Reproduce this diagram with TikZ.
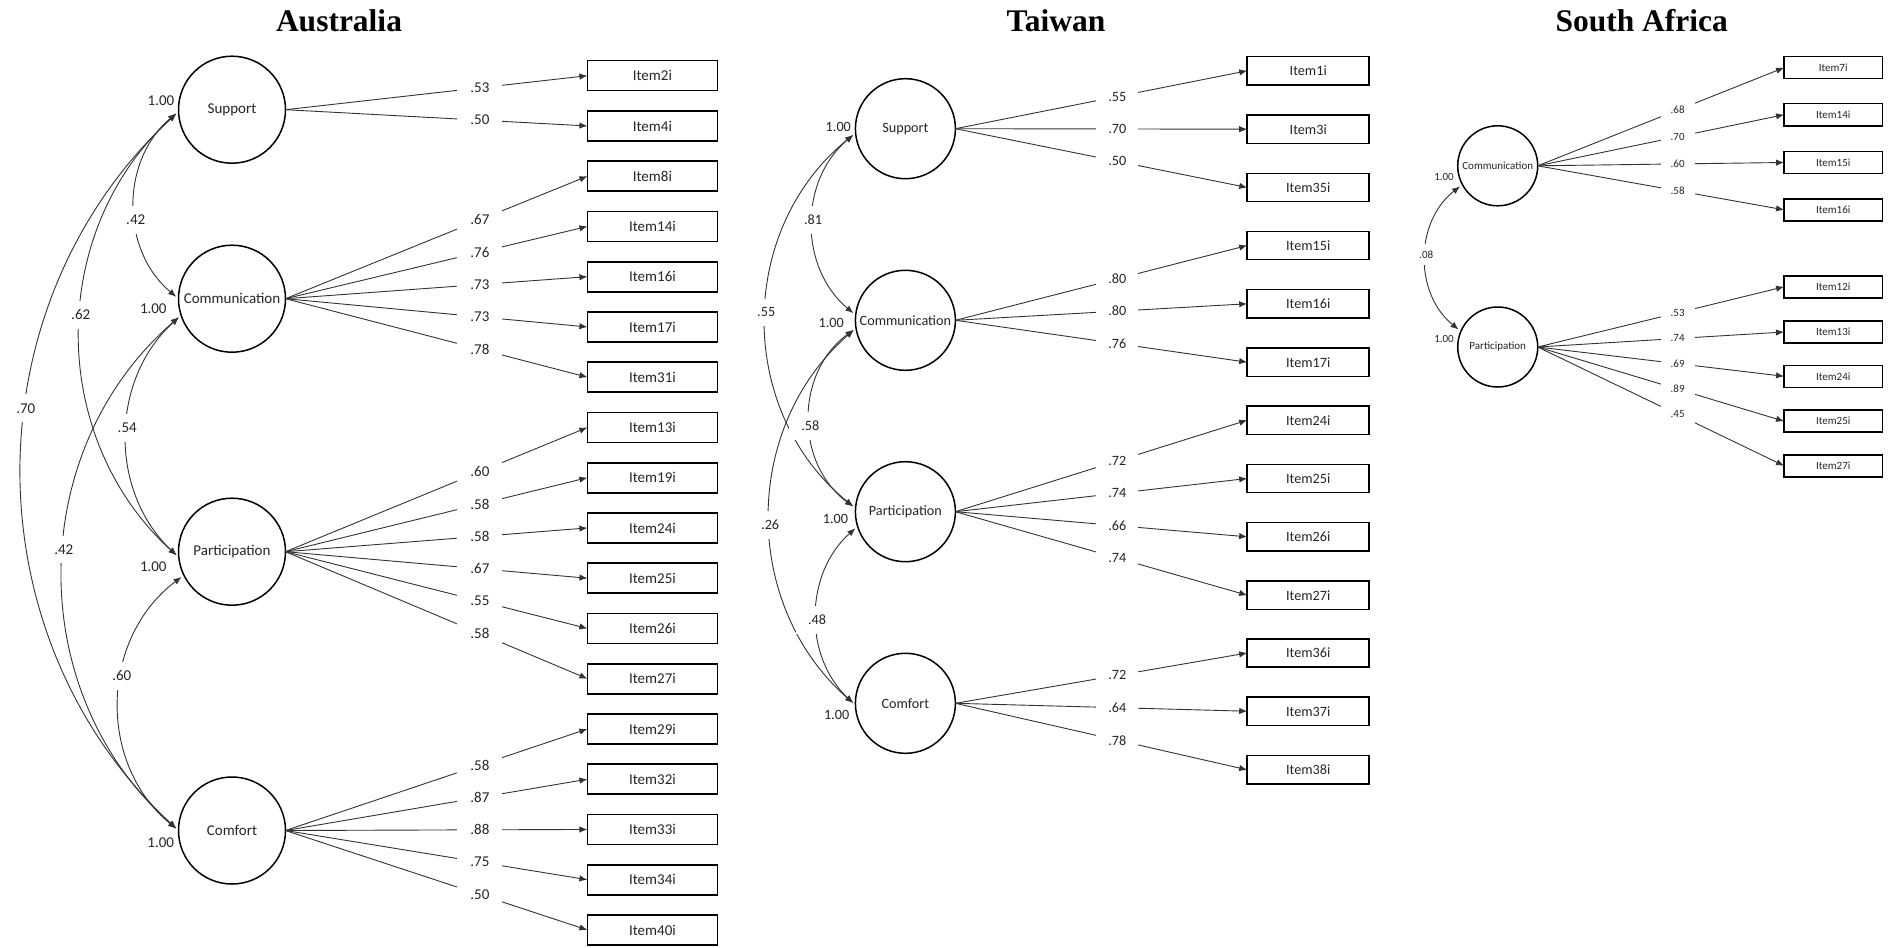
\documentclass[tikz,border=0pt]{standalone}
\usepackage{fontspec}
\setmainfont{Carlito}
\newfontfamily\ttlfont{Liberation Serif}
\usetikzlibrary{arrows.meta,calc}
\newcommand\cvarc[6]{%
  \pgfmathsetmacro\cvk{1/(3*cos(#4/2)^2)}%
  \draw[cov] (#2) .. controls ($(#2)!\cvk!-#4:(#3)$) and ($(#3)!\cvk!#4:(#2)$) .. (#3) node[#1,pos=#5]{#6};%
}
\begin{document}
\begin{tikzpicture}[x=0.5pt,y=-0.5pt,
  >={Latex[length=4pt,width=3.2pt]},
  every node/.style={text=black!85},
  lat/.style={circle,draw=black,line width=0.75pt,inner sep=0pt,outer sep=0pt},
  ind/.style={rectangle,draw=black,line width=0.8pt,inner sep=0pt,outer sep=0pt},
  load/.style={->,draw=black!80,line width=0.45pt},
  cov/.style={<->,draw=black!80,line width=0.45pt,shorten <=1.5pt,shorten >=1.5pt},
  fa/.style={font=\fontsize{7.5}{9}\selectfont},
  ft/.style={font=\fontsize{7.1}{8.5}\selectfont},
  fs/.style={font=\fontsize{5.5}{6.6}\selectfont},
  laba/.style={fa,fill=white,inner xsep=6.5pt,inner ysep=4.5pt},
  labt/.style={ft,fill=white,inner xsep=6pt,inner ysep=4.5pt},
  labs/.style={fs,fill=white,inner xsep=5pt,inner ysep=3.2pt},
  vara/.style={fa,inner sep=0pt},
  vart/.style={ft,inner sep=0pt},
  vars/.style={fs,inner sep=0pt},
  ttl/.style={font=\ttlfont\bfseries\fontsize{15.75}{18}\selectfont,text=black,inner sep=0pt,anchor=base},
  lata/.style={lat,fa,minimum size=53.5pt},
  latt/.style={lat,ft,minimum size=50pt},
  lats/.style={lat,fs,minimum size=40pt},
  inda/.style={ind,fa,minimum width=65pt,minimum height=15pt},
  indt/.style={ind,ft,minimum width=61pt,minimum height=14.15pt},
  inds/.style={ind,fs,minimum width=49.15pt,minimum height=11pt}
]
\fill[white] (0,0) rectangle (1893,947);
\useasboundingbox (0,0) rectangle (1893,947);

% ---------------- Titles
\node[ttl] (ttlA) at (339,31.7) {Australia};
\node[ttl] (ttlT) at (1056,31.7) {Taiwan};
\node[ttl] (ttlS) at (1641.7,31.7) {South Africa};

% ---------------- Australia
\node[lata] (aS) at (232,109.7) {Support};
\node[lata] (aC) at (232,298.7) {Communication};
\node[lata] (aP) at (232,551.7) {Participation};
\node[lata] (aF) at (232,830.5) {Comfort};
\foreach \n [count=\k] in {Item2i,Item4i,Item8i,Item14i,Item16i,Item17i,Item31i,Item13i,Item19i,Item24i,Item25i,Item26i,Item27i,Item29i,Item32i,Item33i,Item34i,Item40i}
  \node[inda] (a\k) at (652.4,{75.7+50.25*(\k-1)}) {\n};
\foreach \k/\src/\v in {1/aS/.53,2/aS/.50,3/aC/.67,4/aC/.76,5/aC/.73,6/aC/.73,7/aC/.78,8/aP/.60,9/aP/.58,10/aP/.58,11/aP/.67,12/aP/.55,13/aP/.58,14/aF/.58,15/aF/.87,16/aF/.88,17/aF/.75,18/aF/.50}
  \draw[load] (\src.east) -- node[laba,pos=.644]{\v} (a\k.west);
\cvarc{laba}{aS.182}{aC.180}{50}{.57}{.42}
\cvarc{laba}{aS.182}{aP.186}{47.7}{.46}{.62}
\cvarc{laba}{aS.182}{aF.180}{47.1}{.42}{.70}
\cvarc{laba}{aC.198}{aP.186}{47.3}{.47}{.54}
\cvarc{laba}{aC.198}{aF.180}{48.8}{.46}{.42}
\cvarc{laba}{aP.206}{aF.180}{51.8}{.41}{.60}
\node[vara] (avS) at (161,100.7) {1.00};
\node[vara] (avC) at (153.3,308.3) {1.00};
\node[vara] (avP) at (153.3,566.7) {1.00};
\node[vara] (avF) at (160.7,842.7) {1.00};

% ---------------- Taiwan
\node[latt] (tS) at (905.4,128.7) {Support};
\node[latt] (tC) at (905.4,320.3) {Communication};
\node[latt] (tP) at (905.4,511.7) {Participation};
\node[latt] (tF) at (905.4,703.3) {Comfort};
\foreach \n/\y [count=\k] in {Item1i/70.8,Item3i/129.2,Item35i/187.5,Item15i/245.5,Item16i/303.8,Item17i/362.2,Item24i/420.2,Item25i/478.5,Item26i/536.8,Item27i/595.2,Item36i/653,Item37i/711.2,Item38i/769.8}
  \node[indt] (t\k) at (1308.2,\y) {\n};
\foreach \k/\src/\v in {1/tS/.55,2/tS/.70,3/tS/.50,4/tC/.80,5/tC/.80,6/tC/.76,7/tP/.72,8/tP/.74,9/tP/.66,10/tP/.74,11/tF/.72,12/tF/.64,13/tF/.78}
  \draw[load] (\src.east) -- node[labt,pos=.555]{\v} (t\k.west);
\cvarc{labt}{tS.185}{tC.174}{50.2}{.48}{.81}
\cvarc{labt}{tS.185}{tP.176}{51}{.48}{.55}
\cvarc{labt}{tC.189}{tP.176}{53.8}{.54}{.58}
\cvarc{labt}{tC.189}{tF.182}{48.9}{.52}{.26}
\cvarc{labt}{tP.197}{tF.182}{47.7}{.525}{.48}
\node[vart] (tvS) at (838.3,126.7) {1.00};
\node[vart] (tvC) at (831.2,322.7) {1.00};
\node[vart] (tvP) at (835.4,519.3) {1.00};
\node[vart] (tvF) at (836.6,715) {1.00};

% ---------------- South Africa
\node[lats] (sC) at (1497.7,165.8) {Communication};
\node[lats] (sP) at (1497.7,347) {Participation};
\foreach \n/\y [count=\k] in {Item7i/67.7,Item14i/114.7,Item15i/162.5,Item16i/209.8,Item12i/286.8,Item13i/332,Item24i/376.3,Item25i/421.2,Item27i/465.8}
  \node[inds] (s\k) at (1833.2,\y) {\n};
\foreach \k/\src/\v in {1/sC/.68,2/sC/.70,3/sC/.60,4/sC/.58,5/sP/.53,6/sP/.74,7/sP/.69,8/sP/.89,9/sP/.45}
  \draw[load] (\src.east) -- node[labs,pos=.568]{\v} (s\k.west);
\cvarc{labs}{sC.208}{sP.157.5}{51.6}{.48}{.08}
\node[vars] (svC) at (1444,177) {1.00};
\node[vars] (svP) at (1444,338.7) {1.00};
\end{tikzpicture}
\end{document}
